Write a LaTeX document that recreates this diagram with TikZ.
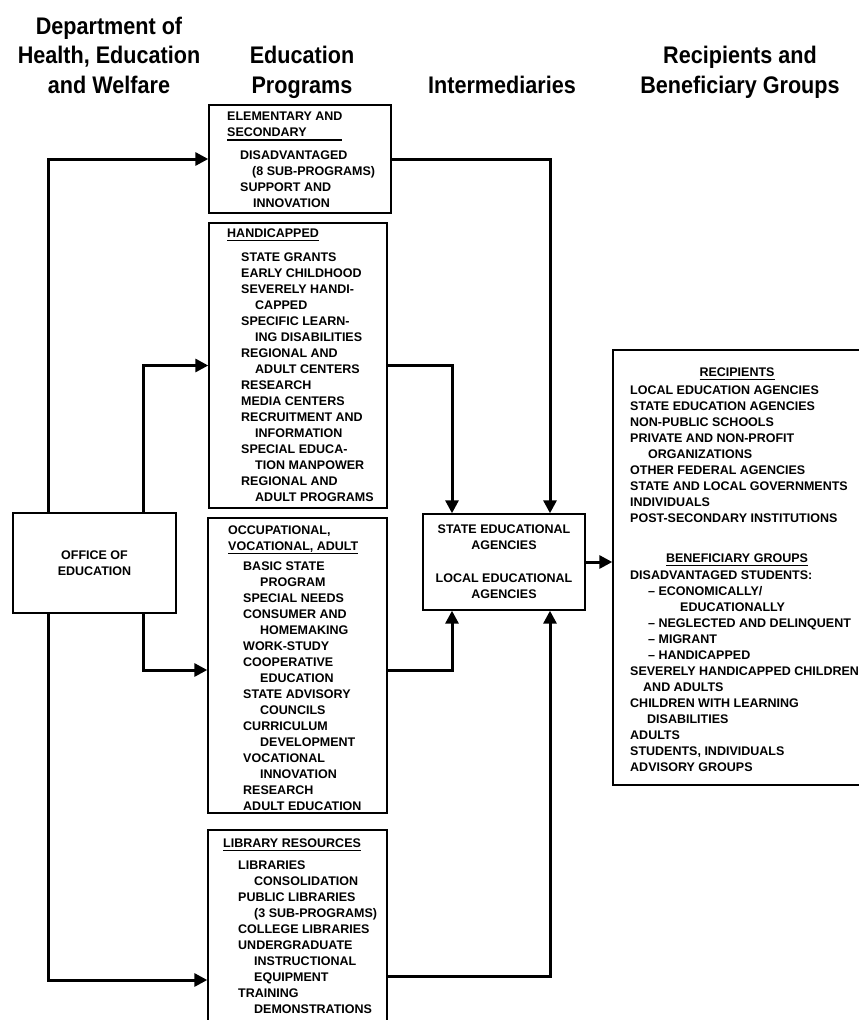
\documentclass[tikz,border=0pt]{standalone}
\usepackage{fontspec}
\setmainfont{Liberation Sans}
\newfontfamily\hdfont{Liberation Sans}[FakeStretch=0.9]
\usetikzlibrary{arrows.meta}
\newcommand\ulw[2]{\setbox0=\hbox{#1}\rlap{#2}\rule[-3.8pt]{\wd0}{1.2pt}}
\newcommand\ind[1]{\hspace*{#1pt}}
\newcommand\bodyfont{\fontsize{12.5}{16}\selectfont\bfseries}
\newcommand\headfont{\hdfont\bfseries\fontsize{24}{29.5}\selectfont}
\begin{document}
\begin{tikzpicture}[x=1pt,y=-1pt,
  box/.style={draw, line width=1.4pt, inner sep=0pt},
  txt/.style={anchor=north west, inner sep=0pt, align=left, font=\bodyfont},
  hd/.style={inner sep=0pt, align=center, font=\headfont},
  conn/.style={line width=3pt, -{Triangle[length=13pt,width=13pt]}}]
\useasboundingbox (0,0) rectangle (859,1020);
\clip (0,0) rectangle (859,1020);
\fill[white] (0,0) rectangle (859,1020);

% headers
\node[hd, anchor=north] (h1) at (109,16.6) {Department of\\Health, Education\\and Welfare};
\node[hd, anchor=north] (h2) at (302,46.1) {Education\\Programs};
\node[hd, anchor=base] (h3) at (502,93.5) {Intermediaries};
\node[hd, anchor=north] (h4) at (740,46.1) {Recipients and\\Beneficiary Groups};

% boxes
\node[box, minimum width=182pt, minimum height=108pt] (elem) at (300,159) {};
\node[box, minimum width=178pt, minimum height=285pt] (hand) at (298,365.5) {};
\node[box, minimum width=179pt, minimum height=295pt] (occ) at (297.5,665.5) {};
\node[box, minimum width=179pt, minimum height=196pt] (lib) at (297.5,928) {};
\node[box, minimum width=163pt, minimum height=100pt, align=center, font=\bodyfont] (office) at (94.5,563) {OFFICE OF\\EDUCATION};
\node[box, minimum width=162pt, minimum height=96pt, align=center, font=\bodyfont] (inter) at (504,562) {STATE EDUCATIONAL\\AGENCIES\\[17pt]LOCAL EDUCATIONAL\\AGENCIES};
\node[box, minimum width=267pt, minimum height=435pt] (recip) at (746.5,567.5) {};

% box texts
\node[txt] (elemT) at (227,112) {ELEMENTARY AND\\\ulw{ELEMENTARY AND}{SECONDARY}\\[6.5pt]
\ind{13}DISADVANTAGED\\\ind{25}(8 SUB-PROGRAMS)\\\ind{13}SUPPORT AND\\\ind{26}INNOVATION};

\node[txt] (handT) at (227,228.5) {\ulw{HANDICAPPED}{HANDICAPPED}\\[8pt]
\ind{14}STATE GRANTS\\
\ind{14}EARLY CHILDHOOD\\
\ind{14}SEVERELY HANDI-\\
\ind{28}CAPPED\\
\ind{14}SPECIFIC LEARN-\\
\ind{28}ING DISABILITIES\\
\ind{14}REGIONAL AND\\
\ind{28}ADULT CENTERS\\
\ind{14}RESEARCH\\
\ind{14}MEDIA CENTERS\\
\ind{14}RECRUITMENT AND\\
\ind{28}INFORMATION\\
\ind{14}SPECIAL EDUCA-\\
\ind{28}TION MANPOWER\\
\ind{14}REGIONAL AND\\
\ind{28}ADULT PROGRAMS};

\node[txt] (occT) at (228,525.5) {OCCUPATIONAL,\\\ulw{VOCATIONAL, ADULT}{VOCATIONAL, ADULT}\\[4pt]
\ind{15}BASIC STATE\\\ind{32}PROGRAM\\\ind{15}SPECIAL NEEDS\\\ind{15}CONSUMER AND\\\ind{32}HOMEMAKING\\
\ind{15}WORK-STUDY\\\ind{15}COOPERATIVE\\\ind{32}EDUCATION\\\ind{15}STATE ADVISORY\\\ind{32}COUNCILS\\
\ind{15}CURRICULUM\\\ind{32}DEVELOPMENT\\\ind{15}VOCATIONAL\\\ind{32}INNOVATION\\\ind{15}RESEARCH\\\ind{15}ADULT EDUCATION};

\node[txt] (libT) at (223,838.5) {\ulw{LIBRARY RESOURCES}{LIBRARY RESOURCES}\\[6pt]
\ind{15}LIBRARIES\\\ind{31}CONSOLIDATION\\\ind{15}PUBLIC LIBRARIES\\\ind{31}(3 SUB-PROGRAMS)\\
\ind{15}COLLEGE LIBRARIES\\\ind{15}UNDERGRADUATE\\\ind{31}INSTRUCTIONAL\\\ind{31}EQUIPMENT\\
\ind{15}TRAINING\\\ind{31}DEMONSTRATIONS};

\node[inner sep=0pt, anchor=base, font=\bodyfont] (recH1) at (737,376.5) {\ulw{RECIPIENTS}{RECIPIENTS}};
\node[txt] (recT1) at (630,385.5) {LOCAL EDUCATION AGENCIES\\STATE EDUCATION AGENCIES\\NON-PUBLIC SCHOOLS\\
PRIVATE AND NON-PROFIT\\\ind{18}ORGANIZATIONS\\OTHER FEDERAL AGENCIES\\STATE AND LOCAL GOVERNMENTS\\
INDIVIDUALS\\POST-SECONDARY INSTITUTIONS};
\node[inner sep=0pt, anchor=base, font=\bodyfont] (recH2) at (737,562.5) {\ulw{BENEFICIARY GROUPS}{BENEFICIARY GROUPS}};
\node[txt] (recT2) at (630,570.5) {DISADVANTAGED STUDENTS:\\\ind{18}– ECONOMICALLY/\\\ind{50}EDUCATIONALLY\\
\ind{18}– NEGLECTED AND DELINQUENT\\\ind{18}– MIGRANT\\\ind{18}– HANDICAPPED\\
SEVERELY HANDICAPPED CHILDREN\\\ind{13}AND ADULTS\\CHILDREN WITH LEARNING\\\ind{17}DISABILITIES\\
ADULTS\\STUDENTS, INDIVIDUALS\\ADVISORY GROUPS};

% helper coordinates
\coordinate (xL) at (48,0);
\coordinate (xI) at (143,0);
\coordinate (xM) at (452,0);
\coordinate (xR) at (550,0);
\coordinate (yOcc) at (0,670);
\coordinate (yLibL) at (0,980);
\coordinate (yLibR) at (0,976);

% connectors
\draw[conn] (office.north -| xL) |- (elem.west);
\draw[conn] (office.north -| xI) |- (hand.west);
\draw[conn] (office.south -| xI) |- (occ.west |- yOcc);
\draw[conn] (office.south -| xL) |- (lib.west |- yLibL);
\draw[conn] (elem.east) -| (inter.north -| xR);
\draw[conn] (hand.east) -| (inter.north -| xM);
\draw[conn] (occ.east |- yOcc) -| (inter.south -| xM);
\draw[conn] (lib.east |- yLibR) -| (inter.south -| xR);
\draw[conn] (inter.east) -- (recip.west |- inter.east);
\end{tikzpicture}
\end{document}
